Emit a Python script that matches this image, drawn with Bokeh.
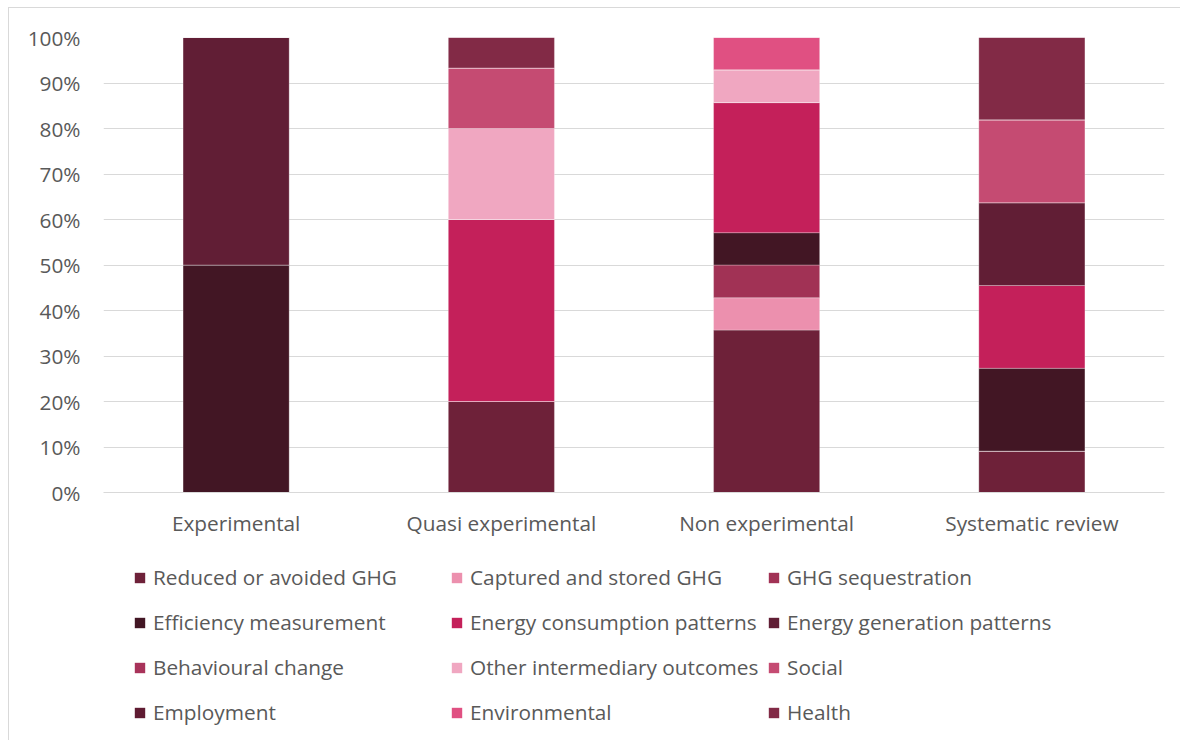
from bokeh.plotting import figure
from bokeh.layouts import column
from bokeh.models import Legend, LegendItem, NumeralTickFormatter, FixedTicker, Range1d
from bokeh.embed import file_html
from bokeh.resources import INLINE

categories = ["Experimental", "Quasi experimental", "Non experimental", "Systematic review"]

series = ["Reduced or avoided GHG", "Captured and stored GHG", "GHG sequestration",
          "Efficiency measurement", "Energy consumption patterns", "Energy generation patterns",
          "Behavioural change", "Other intermediary outcomes", "Social",
          "Employment", "Environmental", "Health"]

colors = ["#6E2139", "#EC90AE", "#A13255",
          "#421624", "#C4205A", "#611E35",
          "#A8335A", "#F0A7C1", "#C54B72",
          "#5F1B32", "#E05082", "#822A46"]

# shares per category (Experimental, Quasi, Non, Systematic)
reduced       = [0.0, 0.200, 0.357, 0.091]
captured      = [0.0, 0.0, 0.071, 0.0]
sequestration = [0.0, 0.0, 0.072, 0.0]
efficiency    = [0.5, 0.0, 0.071, 0.182]
consumption   = [0.0, 0.400, 0.286, 0.182]
generation    = [0.5, 0.0, 0.0, 0.182]
behavioural   = [0.0, 0.0, 0.0, 0.0]
intermediary  = [0.0, 0.200, 0.072, 0.0]
social        = [0.0, 0.133, 0.0, 0.182]
employment    = [0.0, 0.0, 0.0, 0.0]
environmental = [0.0, 0.0, 0.071, 0.0]
health        = [0.0, 0.067, 0.0, 0.181]

y_ticks = [0, 0.1, 0.2, 0.3, 0.4, 0.5, 0.6, 0.7, 0.8, 0.9, 1.0]

values = [reduced, captured, sequestration, efficiency, consumption, generation,
          behavioural, intermediary, social, employment, environmental, health]

data = {"cat": categories}
keys = []
for i, v in enumerate(values):
    k = "s%d" % i
    keys.append(k)
    data[k] = v

FONT = "Open Sans"
TXT = "#595959"
FS = "20.8px"
W = 1171

p = figure(x_range=categories, y_range=Range1d(0, 1), width=W, height=537,
           output_backend="svg", toolbar_location=None,
           min_border_left=94, min_border_right=16, min_border_top=29,
           min_border_bottom=53)

p.vbar_stack(keys, x="cat", width=0.4, color=colors, source=data,
             line_color="white", line_width=0.6, line_alpha=0.45)

p.yaxis.ticker = FixedTicker(ticks=y_ticks)
p.yaxis.formatter = NumeralTickFormatter(format="0%")
p.yaxis.axis_line_color = None
p.yaxis.major_tick_line_color = None
p.yaxis.minor_tick_line_color = None
p.yaxis.major_tick_out = 0
p.yaxis.minor_tick_out = 0
p.yaxis.major_label_text_font = FONT
p.yaxis.major_label_text_font_size = FS
p.yaxis.major_label_text_color = TXT
p.yaxis.major_label_standoff = 23

p.xaxis.axis_line_color = "#D9D9D9"
p.xaxis.axis_line_width = 1.2
p.xaxis.major_tick_line_color = None
p.xaxis.minor_tick_line_color = None
p.xaxis.major_tick_out = 0
p.xaxis.minor_tick_out = 0
p.xaxis.major_label_text_font = FONT
p.xaxis.major_label_text_font_size = FS
p.xaxis.major_label_text_color = TXT
p.xaxis.major_label_standoff = 16

p.xgrid.grid_line_color = None
p.ygrid.grid_line_color = "#D9D9D9"
p.ygrid.grid_line_width = 1.2
p.outline_line_color = None
p.x_range.range_padding = 0.0

# legend panel: a separate, axis-less figure holding three legend columns.
# Its swatch renderers reuse the same data but are hidden (legend only).
q = figure(x_range=categories, y_range=Range1d(0, 1), width=W, height=195,
           output_backend="svg", toolbar_location=None,
           x_axis_type=None, y_axis_type=None, min_border=0)
q.outline_line_color = None
q.xgrid.visible = False
q.ygrid.visible = False
swatches = q.vbar_stack(keys, x="cat", width=0.4, color=colors, source=data,
                        line_color=None)
for r in swatches:
    r.visible = False

columns_idx = [[0, 3, 6, 9], [1, 4, 7, 10], [2, 5, 8, 11]]
col_x = [30, 347, 664]
for cx, col in zip(col_x, columns_idx):
    items = [LegendItem(label=series[i], renderers=[swatches[i]]) for i in col]
    lg = Legend(items=items, orientation="vertical", location=(cx, 13),
                label_text_font=FONT, label_text_font_size=FS, label_text_color=TXT,
                glyph_width=13, glyph_height=13, label_standoff=7, spacing=15,
                label_height=30, border_line_color=None, background_fill_alpha=0,
                inactive_fill_alpha=0, padding=0, margin=0)
    q.add_layout(lg, "center")

layout = column(p, q, spacing=0)
layout.styles = {"margin-left": "8px", "margin-top": "7px",
                 "border-left": "1px solid #D9D9D9", "border-top": "1px solid #D9D9D9"}

open("out.html", "w").write(file_html(layout, INLINE))
